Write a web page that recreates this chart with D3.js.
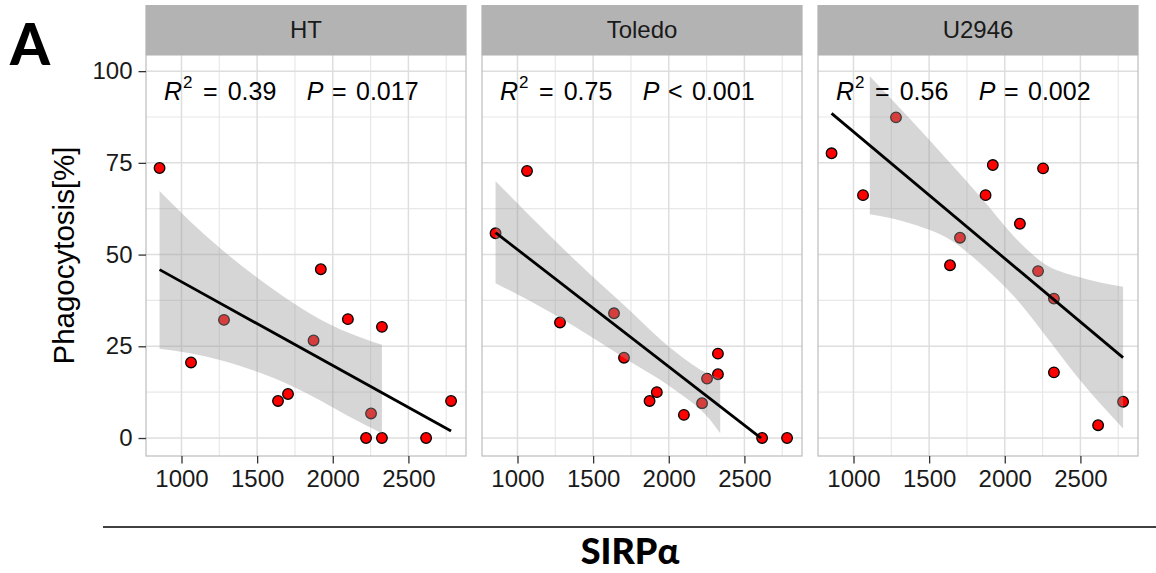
<!DOCTYPE html>
<html>
<head>
<meta charset="utf-8">
<script src="https://cdn.jsdelivr.net/npm/d3@7"></script>
<style>
  body { margin: 0; background: #fff; }
  svg { display: block; font-family: "Liberation Sans", Arial, sans-serif; }
</style>
</head>
<body>
<svg class="main-graphic"></svg>
<script>
// panel names and SIRPa expression (same patients in every panel)
var cellLines = ["HT", "Toledo", "U2946"];
var sirpa = [855, 1063, 1281, 1638, 1704, 1873, 1921, 2100, 2220, 2253, 2325, 2325, 2617, 2782];

// phagocytosis % per cell line
var htPhago     = [73.6, 20.6, 32.2, 10.1, 12.0, 26.6, 46.0, 32.4, 0, 6.7, 30.3, 0, 0, 10.1];
var toledoPhago = [55.8, 72.8, 31.5, 34.0, 21.9, 10.1, 12.5, 6.3, 9.5, 16.2, 23.0, 17.4, 0, 0];
var u2946Phago  = [77.6, 66.2, 87.4, 47.1, 54.6, 66.2, 74.4, 58.4, 45.5, 73.5, 38.0, 17.9, 3.5, 9.9];

// fitted line end points
var fitX = [[855, 2782], [855, 2610], [855, 2782]];
var fitY = [[45.9, 1.9], [56.0, 0], [88.5, 21.9]];

// confidence bands
var htBandX     = [855, 1056, 1254, 1497, 1739, 1915, 2092, 2325];
var htBandLo    = [24.3, 23.1, 21.3, 18.1, 14.0, 10.3, 6.2, 1.3];
var htBandHi    = [67.3, 59.1, 51.8, 43.8, 36.8, 32.4, 28.9, 25.4];
var toledoBandX  = [855, 1071, 1380, 1710, 2041, 2261, 2340];
var toledoBandLo = [42.2, 37.6, 30.3, 21.7, 13.1, 5.5, 1.3];
var toledoBandHi = [70.0, 61.0, 48.5, 36.0, 23.6, 17.5, 16.3];
var u2946BandX  = [1108, 1377, 1642, 1862, 2083, 2258, 2479, 2782];
var u2946BandLo = [61.0, 58.5, 54.0, 46.7, 37.6, 28.5, 16.7, 2.6];
var u2946BandHi = [98.6, 86.8, 74.8, 64.6, 54.0, 47.6, 44.0, 41.2];

// annotation text
var r2Labels = ["0.39", "0.75", "0.56"];
var pOps = ["=", "<", "="];
var pLabels = ["0.017", "0.001", "0.002"];

var xTicks = [1000, 1500, 2000, 2500];
var xMinor = [1250, 1750, 2250, 2750];
var yTicks = [0, 25, 50, 75, 100];
var yMinor = [12.5, 37.5, 62.5, 87.5];

var phago = [htPhago, toledoPhago, u2946Phago];
var bands = [
  {x: htBandX, lo: htBandLo, hi: htBandHi},
  {x: toledoBandX, lo: toledoBandLo, hi: toledoBandHi},
  {x: u2946BandX, lo: u2946BandLo, hi: u2946BandHi}
];

var width = 1156, height = 573;
var panelLeft = [146, 482, 818], panelW = 320;
var panelTop = 55, panelBottom = 456, stripTop = 5;

var svg = d3.select(".main-graphic")
    .attr("width", width)
    .attr("height", height);

var y = d3.scaleLinear().domain([-4.9, 104.4]).range([panelBottom, panelTop]);

cellLines.forEach(function(name, i) {
  var x = d3.scaleLinear().domain([765.4, 2880.7]).range([panelLeft[i], panelLeft[i] + panelW]);
  var g = svg.append("g").attr("class", "panel");

  // grid
  g.selectAll(".ymin").data(yMinor).enter().append("line")
      .attr("x1", x.range()[0]).attr("x2", x.range()[1])
      .attr("y1", y).attr("y2", y)
      .attr("stroke", "#e8e8e8").attr("stroke-width", 1.2);
  g.selectAll(".xmin").data(xMinor).enter().append("line")
      .attr("x1", x).attr("x2", x)
      .attr("y1", panelTop).attr("y2", panelBottom)
      .attr("stroke", "#e8e8e8").attr("stroke-width", 1.2);
  g.selectAll(".ymaj").data(yTicks).enter().append("line")
      .attr("x1", x.range()[0]).attr("x2", x.range()[1])
      .attr("y1", y).attr("y2", y)
      .attr("stroke", "#dedede").attr("stroke-width", 1.5);
  g.selectAll(".xmaj").data(xTicks).enter().append("line")
      .attr("x1", x).attr("x2", x)
      .attr("y1", panelTop).attr("y2", panelBottom)
      .attr("stroke", "#dedede").attr("stroke-width", 1.5);

  // points
  g.selectAll(".pt").data(sirpa).enter().append("circle")
      .attr("cx", function(d) { return x(d); })
      .attr("cy", function(d, j) { return y(phago[i][j]); })
      .attr("r", 5.3)
      .attr("fill", "#ff0000")
      .attr("stroke", "#000")
      .attr("stroke-width", 1.3);

  // band on top of points
  var b = bands[i];
  var area = d3.area()
      .curve(d3.curveMonotoneX)
      .x(function(d, j) { return x(b.x[j]); })
      .y0(function(d, j) { return y(b.lo[j]); })
      .y1(function(d, j) { return y(b.hi[j]); });
  g.append("path")
      .attr("d", area(b.x))
      .attr("fill", "#999999")
      .attr("fill-opacity", 0.4);

  // fit line
  g.append("line")
      .attr("x1", x(fitX[i][0])).attr("x2", x(fitX[i][1]))
      .attr("y1", y(fitY[i][0])).attr("y2", y(fitY[i][1]))
      .attr("stroke", "#000").attr("stroke-width", 2.8);

  // border
  g.append("rect")
      .attr("x", x.range()[0]).attr("y", panelTop)
      .attr("width", panelW).attr("height", panelBottom - panelTop)
      .attr("fill", "none").attr("stroke", "#bdbdbd").attr("stroke-width", 1.2);

  // strip
  g.append("rect")
      .attr("x", x.range()[0] - 0.6).attr("y", stripTop)
      .attr("width", panelW + 1.2).attr("height", panelTop - stripTop)
      .attr("fill", "#b3b3b3");
  g.append("text")
      .attr("x", x.range()[0] + panelW / 2).attr("y", 38)
      .attr("text-anchor", "middle")
      .attr("font-size", 24).attr("fill", "#1a1a1a")
      .text(name);

  // annotation
  var ann = g.append("g").attr("font-size", 25).attr("fill", "#000");
  var x0 = x.range()[0];
  ann.append("text").attr("x", x0 + 18).attr("y", 100).attr("font-style", "italic").text("R");
  ann.append("text").attr("x", x0 + 37).attr("y", 87.5).attr("font-size", 17).text("2");
  ann.append("text").attr("x", x0 + 57).attr("y", 100).text("=");
  ann.append("text").attr("x", x0 + 81.7).attr("y", 100).text(r2Labels[i]);
  ann.append("text").attr("x", x0 + 160.7).attr("y", 100).attr("font-style", "italic").text("P");
  ann.append("text").attr("x", x0 + 186).attr("y", 100).text(pOps[i]);
  ann.append("text").attr("x", x0 + 210).attr("y", 100).text(pLabels[i]);

  // x axis
  var xAxis = d3.axisBottom(x).tickValues(xTicks).tickSize(7.5).tickPadding(6).tickFormat(d3.format("d"));
  var ax = svg.append("g")
      .attr("transform", "translate(0," + panelBottom + ")")
      .call(xAxis);
  ax.select(".domain").remove();
  ax.selectAll(".tick line").attr("stroke", "#333").attr("stroke-width", 1.3);
  ax.selectAll(".tick text").attr("font-size", 24).attr("fill", "#1a1a1a")
      .attr("font-family", "Liberation Sans, Arial, sans-serif");
});

// y axis on first panel
var yAxis = d3.axisLeft(y).tickValues(yTicks).tickSize(7.5).tickPadding(6);
var ay = svg.append("g")
    .attr("transform", "translate(" + panelLeft[0] + ",0)")
    .call(yAxis);
ay.select(".domain").remove();
ay.selectAll(".tick line").attr("stroke", "#333").attr("stroke-width", 1.3);
ay.selectAll(".tick text").attr("font-size", 24).attr("fill", "#1a1a1a")
    .attr("font-family", "Liberation Sans, Arial, sans-serif");

svg.append("text")
    .attr("transform", "translate(74," + (panelTop + panelBottom) / 2 + ") rotate(-90)")
    .attr("text-anchor", "middle")
    .attr("font-size", 29.5)
    .text("Phagocytosis[%]");

// panel letter
svg.append("text")
    .attr("x", 10).attr("y", 65)
    .attr("font-family", "Lato, sans-serif").attr("font-weight", "900")
    .attr("font-size", 57)
    .text("A");

// shared x label
svg.append("line")
    .attr("x1", 103).attr("x2", 1156)
    .attr("y1", 527).attr("y2", 527)
    .attr("stroke", "#000").attr("stroke-width", 1.5);
svg.append("text")
    .attr("x", 630).attr("y", 564)
    .attr("text-anchor", "middle")
    .attr("font-family", "Lato, sans-serif").attr("font-weight", "900")
    .attr("font-size", 36)
    .text("SIRPα");
</script>
</body>
</html>
